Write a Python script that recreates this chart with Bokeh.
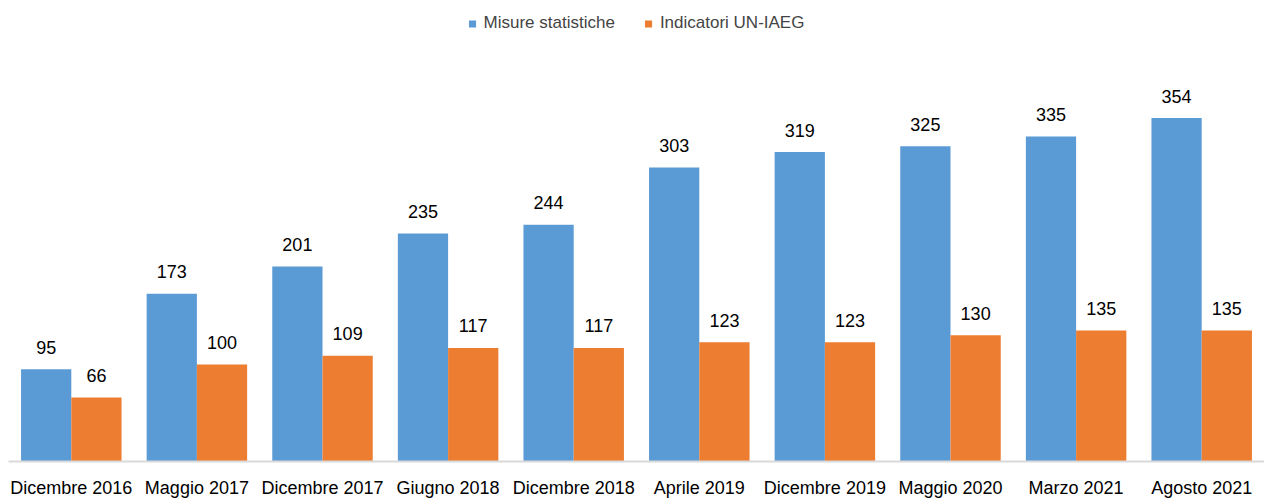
from bokeh.plotting import figure
from bokeh.models import ColumnDataSource, Legend, LegendItem, Range1d, FactorRange
from bokeh.transform import dodge
from bokeh.embed import file_html
from bokeh.resources import INLINE
from bokeh.core.properties import value

categories = ["Dicembre 2016", "Maggio 2017", "Dicembre 2017", "Giugno 2018", "Dicembre 2018",
              "Aprile 2019", "Dicembre 2019", "Maggio 2020", "Marzo 2021", "Agosto 2021"]
misure = [95, 173, 201, 235, 244, 303, 319, 325, 335, 354]
indicatori = [66, 100, 109, 117, 117, 123, 123, 130, 135, 135]
series_names = ["Misure statistiche", "Indicatori UN-IAEG"]
colors = ["#5B9BD5", "#ED7D31"]

FONT = "Liberation Sans"

src = ColumnDataSource(dict(cat=categories, misure=misure, indicatori=indicatori,
                            misure_lbl=[str(v) for v in misure],
                            indicatori_lbl=[str(v) for v in indicatori]))

p = figure(width=1264, height=500, output_backend="svg", toolbar_location=None,
           x_range=FactorRange(*categories, range_padding=0), y_range=Range1d(0, 470),
           min_border_left=8, min_border_right=0, min_border_top=5, min_border_bottom=0)

r1 = p.vbar(x=dodge("cat", -0.2, range=p.x_range), top="misure", width=0.4, source=src,
            fill_color=colors[0], line_color=None)
r2 = p.vbar(x=dodge("cat", 0.2, range=p.x_range), top="indicatori", width=0.4, source=src,
            fill_color=colors[1], line_color=None)

p.text(x=dodge("cat", -0.2, range=p.x_range), y="misure", text="misure_lbl", source=src,
       text_align="center", text_baseline="alphabetic", y_offset=-22,
       text_font=value(FONT), text_font_size="18px", text_color="#000000")
p.text(x=dodge("cat", 0.2, range=p.x_range), y="indicatori", text="indicatori_lbl", source=src,
       text_align="center", text_baseline="alphabetic", y_offset=-22,
       text_font=value(FONT), text_font_size="18px", text_color="#000000")

p.yaxis.visible = False
p.xgrid.visible = False
p.ygrid.visible = False
p.outline_line_color = None

xa = p.xaxis[0]
xa.axis_line_color = "#D9D9D9"
xa.axis_line_width = 2
xa.major_tick_line_color = None
xa.minor_tick_line_color = None
xa.major_label_standoff = 10
xa.major_label_text_font = FONT
xa.major_label_text_font_size = "18px"
xa.major_label_text_color = "#000000"

legend = Legend(items=[LegendItem(label=series_names[0], renderers=[r1]),
                       LegendItem(label=series_names[1], renderers=[r2])],
                orientation="horizontal", location="top", border_line_color=None,
                background_fill_alpha=0, glyph_width=9, glyph_height=9,
                label_text_font=FONT, label_text_font_size="17px", label_standoff=7,
                spacing=29, margin=8, padding=8)
p.add_layout(legend)

open("out.html", "w").write(file_html(p, INLINE))
